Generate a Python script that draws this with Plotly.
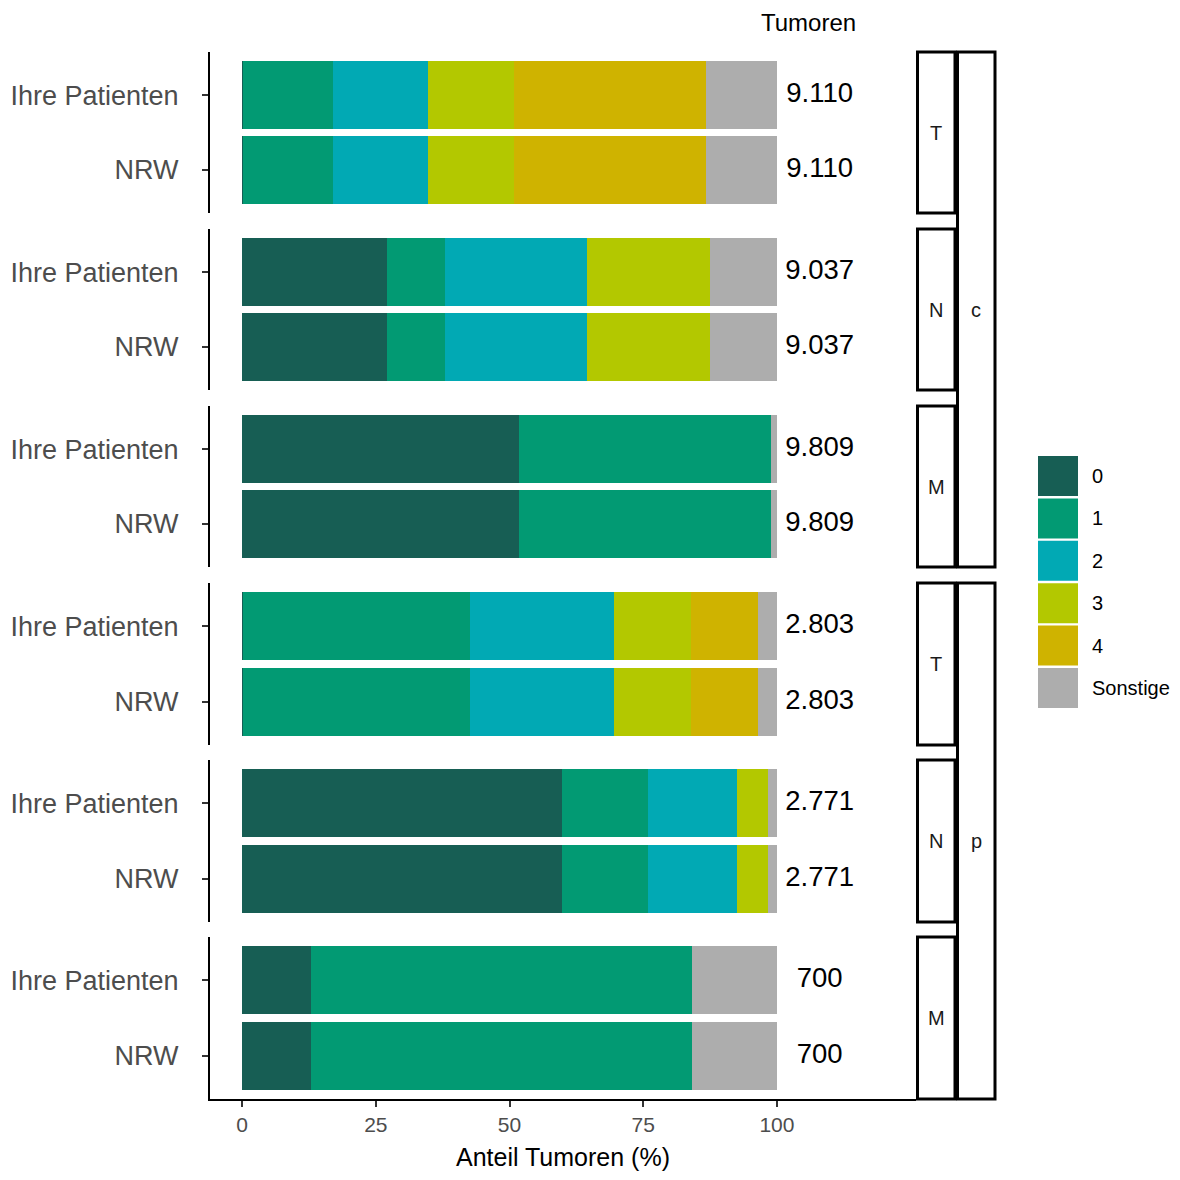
import plotly.graph_objects as go

# ---------------- data ----------------
categories = ["0", "1", "2", "3", "4", "Sonstige"]
colors = ["#175E54", "#029A73", "#01A9B4", "#B3C800", "#CFB300", "#ADADAD"]
groups = ["Ihre Patienten", "NRW"]
stadium = ["c", "c", "c", "p", "p", "p"]
kategorie = ["T", "N", "M", "T", "N", "M"]

# share (%) per panel (cT, cN, cM, pT, pN, pM)
ihre_0 = [0.1, 27.1, 51.7, 0.1, 59.9, 12.9]
ihre_1 = [16.9, 10.8, 47.2, 42.5, 15.9, 71.2]
ihre_2 = [17.7, 26.6, 0.0, 26.9, 16.7, 0.0]
ihre_3 = [16.2, 22.9, 0.0, 14.4, 5.8, 0.0]
ihre_4 = [35.8, 0.0, 0.0, 12.5, 0.0, 0.0]
ihre_s = [13.3, 12.6, 1.1, 3.6, 1.7, 15.9]

nrw_0 = [0.1, 27.1, 51.7, 0.1, 59.9, 12.9]
nrw_1 = [16.9, 10.8, 47.2, 42.5, 15.9, 71.2]
nrw_2 = [17.7, 26.6, 0.0, 26.9, 16.7, 0.0]
nrw_3 = [16.2, 22.9, 0.0, 14.4, 5.8, 0.0]
nrw_4 = [35.8, 0.0, 0.0, 12.5, 0.0, 0.0]
nrw_s = [13.3, 12.6, 1.1, 3.6, 1.7, 15.9]

counts_ihre = ["9.110", "9.037", "9.809", "2.803", "2.771", "700"]
counts_nrw = ["9.110", "9.037", "9.809", "2.803", "2.771", "700"]

x_ticks = [0, 25, 50, 75, 100]
x_title = "Anteil Tumoren (%)"
count_title = "Tumoren"
count_x = 108

ihre = [ihre_0, ihre_1, ihre_2, ihre_3, ihre_4, ihre_s]
nrw = [nrw_0, nrw_1, nrw_2, nrw_3, nrw_4, nrw_s]

# ---------------- layout geometry (page pixels) ----------------
OFF = 8  # page body margin
W, H = 1180 - OFF, 1180 - 2 * OFF
L = 210 - OFF
T = 52 - OFF
R = W - (916 - OFF)
B = H - (1099 - OFF)
PW = W - L - R
PH = H - T - B
panel_top = [52, 229, 406, 583, 760, 937]
panel_bot = [213, 390, 567, 745, 922, 1099]


def px_y(p):
    return (H - B - (p - OFF)) / PH


def px_x(p):
    return (p - OFF - L) / PW


fig = go.Figure()
layout = {}
for i in range(6):
    s = "" if i == 0 else str(i + 1)
    for ci, cat in enumerate(categories):
        fig.add_trace(go.Bar(
            x=[ihre[ci][i], nrw[ci][i]],
            y=groups,
            orientation="h",
            marker=dict(color=colors[ci], line=dict(width=0)),
            name=cat,
            showlegend=False,
            xaxis="x" + s,
            yaxis="y" + s,
            hovertemplate=cat + ": %{x}%<extra></extra>",
        ))
    fig.add_trace(go.Scatter(
        x=[count_x, count_x],
        y=groups,
        mode="text",
        text=[counts_ihre[i], counts_nrw[i]],
        textposition="middle center",
        textfont=dict(size=27.5, color="black"),
        showlegend=False,
        hoverinfo="skip",
        cliponaxis=False,
        xaxis="x" + s,
        yaxis="y" + s,
    ))
    last = i == 5
    layout["xaxis" + s] = dict(
        domain=[0, 1],
        anchor="y" + s,
        range=[-6, 126],
        automargin=False,
        showgrid=False,
        zeroline=False,
        showline=last,
        linecolor="black",
        linewidth=2,
        ticks="outside" if last else "",
        ticklen=6,
        tickwidth=2,
        tickcolor="#333333",
        tickvals=x_ticks,
        showticklabels=last,
        tickfont=dict(size=21, color="#4D4D4D"),
    )
    layout["yaxis" + s] = dict(
        domain=[px_y(panel_bot[i]), px_y(panel_top[i])],
        anchor="x" + s,
        type="category",
        categoryorder="array",
        categoryarray=groups[::-1],
        range=[-0.575, 1.575],
        automargin=False,
        showgrid=False,
        zeroline=False,
        showline=True,
        linecolor="black",
        linewidth=2,
        ticks="outside",
        ticklen=6,
        tickwidth=2,
        tickcolor="#333333",
        tickfont=dict(size=27, color="#4D4D4D"),
        ticklabelstandoff=18,
    )

shapes = []
annotations = []
# inner strips (T/N/M)
for i in range(6):
    shapes.append(dict(type="rect", xref="paper", yref="paper",
                       x0=px_x(917.5), x1=px_x(955),
                       y0=px_y(panel_bot[i]), y1=px_y(panel_top[i]),
                       line=dict(color="black", width=3), fillcolor="white", layer="above"))
    annotations.append(dict(xref="paper", yref="paper", x=px_x(936),
                            y=px_y((panel_top[i] + panel_bot[i]) / 2),
                            xanchor="center", yanchor="middle",
                            text=kategorie[i], showarrow=False,
                            font=dict(size=20, color="#1A1A1A")))
# outer strips (c/p)
for st, (a, b) in zip(["c", "p"], [(0, 2), (3, 5)]):
    shapes.append(dict(type="rect", xref="paper", yref="paper",
                       x0=px_x(957.5), x1=px_x(995),
                       y0=px_y(panel_bot[b]), y1=px_y(panel_top[a]),
                       line=dict(color="black", width=3), fillcolor="white", layer="above"))
    annotations.append(dict(xref="paper", yref="paper", x=px_x(976),
                            y=px_y((panel_top[a] + panel_bot[b]) / 2),
                            xanchor="center", yanchor="middle",
                            text=st, showarrow=False,
                            font=dict(size=20, color="#1A1A1A")))

# legend (manual, ggplot-style keys)
key_top = 456
key_step = 42.4
for ci, cat in enumerate(categories):
    y0 = key_top + ci * key_step
    shapes.append(dict(type="rect", xref="paper", yref="paper",
                       x0=px_x(1038), x1=px_x(1078),
                       y0=px_y(y0 + 40), y1=px_y(y0),
                       line=dict(width=0), fillcolor=colors[ci]))
    annotations.append(dict(xref="paper", yref="paper", x=px_x(1090),
                            y=px_y(y0 + 20), xanchor="left", yanchor="middle",
                            text=cat, showarrow=False,
                            font=dict(size=20, color="black")))

# titles
annotations.append(dict(xref="paper", yref="paper", x=px_x(563), y=px_y(1157),
                        text=x_title, showarrow=False, xanchor="center", yanchor="middle",
                        font=dict(size=25, color="black")))
annotations.append(dict(xref="paper", yref="paper", x=px_x(808), y=px_y(23),
                        text=count_title, showarrow=False, xanchor="center", yanchor="middle",
                        font=dict(size=24, color="black")))

fig.update_layout(
    **layout,
    width=W, height=H,
    margin=dict(l=L, r=R, t=T, b=B, pad=0, autoexpand=False),
    barmode="stack",
    bargap=0.1,
    showlegend=False,
    plot_bgcolor="white",
    paper_bgcolor="white",
    font=dict(family="Liberation Sans, Arial, sans-serif", color="black"),
    shapes=shapes,
    annotations=annotations,
)

fig.write_html("out.html")
